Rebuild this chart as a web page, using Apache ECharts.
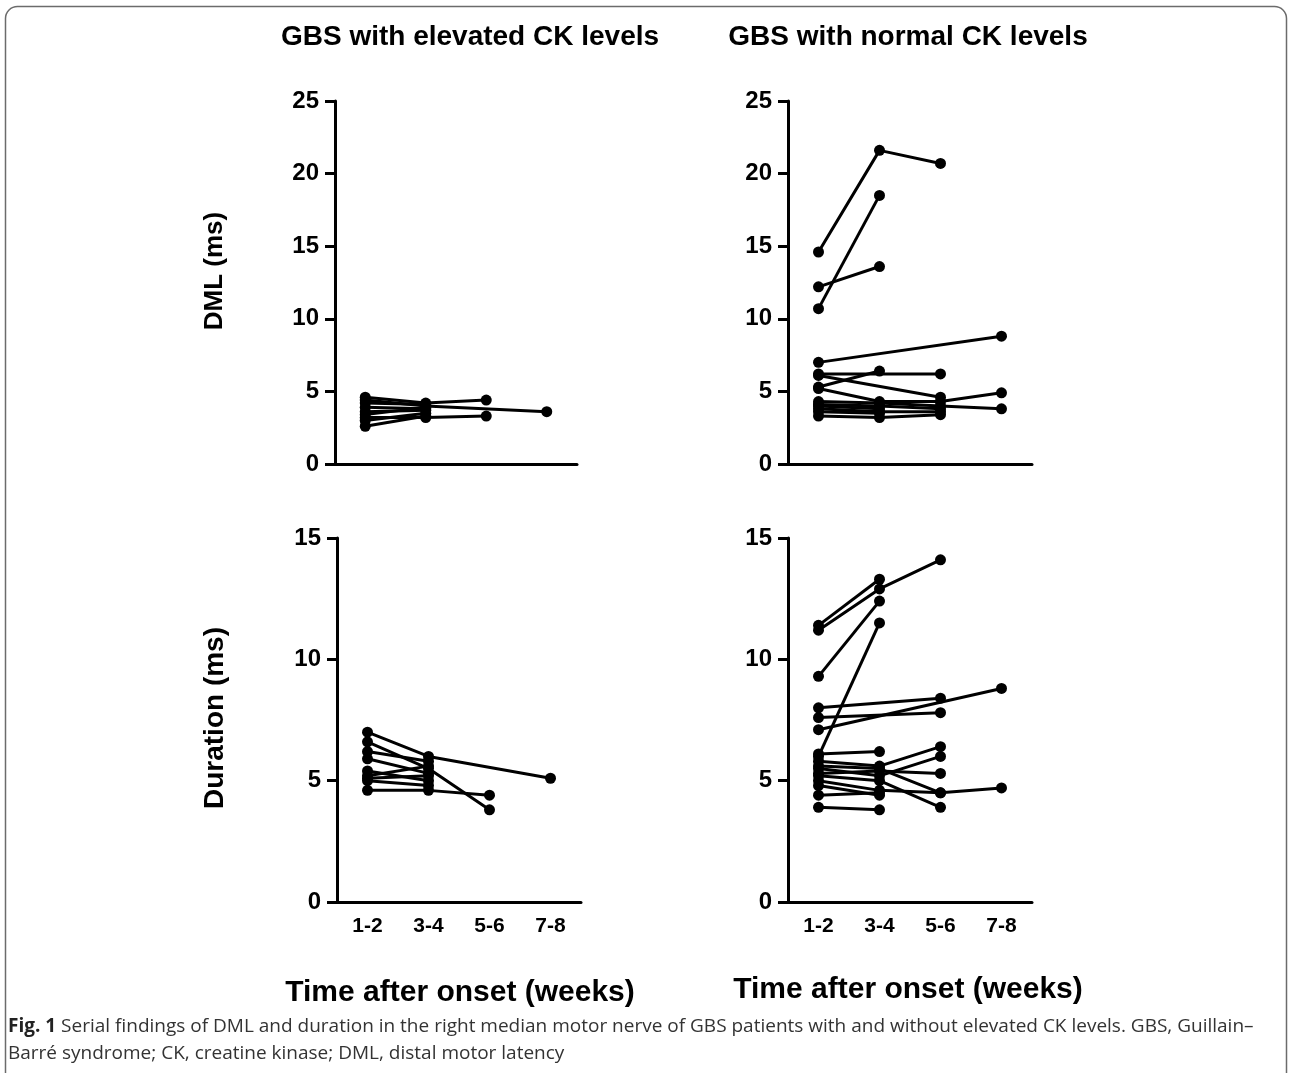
<!DOCTYPE html>
<html>
<head>
<meta charset="utf-8">
<script src="https://cdn.jsdelivr.net/npm/echarts@6/dist/echarts.min.js"></script>
<style>
html, body { margin: 0; padding: 0; background: #fff; }
#chart { width: 1292px; height: 1073px; }
</style>
</head>
<body>
<div id="chart"></div>
<script>
// time after onset (weeks)
const weeks = ['1-2', '3-4', '5-6', '7-8'];

// one row per patient, null = no measurement at that time
const dmlElevated = [
  [4.6, 4.2, 4.4, null],
  [4.4, 4.0, null, 3.6],
  [4.2, 4.1, null, null],
  [3.9, 3.8, null, null],
  [3.6, 3.7, null, null],
  [3.4, 3.9, null, null],
  [3.2, 3.2, 3.3, null],
  [3.0, 3.5, null, null],
  [2.6, 3.3, null, null]
];
const dmlNormal = [
  [14.6, 21.6, 20.7, null],
  [10.7, 18.5, null, null],
  [12.2, 13.6, null, null],
  [7.0, null, null, 8.8],
  [6.2, null, 6.2, null],
  [6.1, null, 4.6, null],
  [5.3, 6.4, null, null],
  [5.2, 4.3, 4.3, 4.9],
  [4.3, 4.2, 4.0, 3.8],
  [4.1, 4.0, 3.8, null],
  [4.0, 3.8, null, null],
  [3.8, 3.6, 3.6, null],
  [3.6, 3.5, null, null],
  [3.3, 3.2, 3.4, null]
];
const durElevated = [
  [7.0, 6.0, null, 5.1],
  [6.6, 5.5, 3.8, null],
  [6.2, 5.8, null, null],
  [5.9, 5.3, null, null],
  [5.4, 5.0, null, null],
  [5.2, 5.6, null, null],
  [5.1, 5.2, null, null],
  [5.0, 4.8, null, null],
  [4.6, 4.6, 4.4, null]
];
const durNormal = [
  [11.4, 13.3, null, null],
  [11.2, 12.9, 14.1, null],
  [9.3, 12.4, null, null],
  [6.0, 11.5, null, null],
  [8.0, null, 8.4, null],
  [7.6, null, 7.8, null],
  [7.1, null, null, 8.8],
  [6.1, 6.2, null, null],
  [5.8, 5.6, 6.4, null],
  [5.5, 5.2, 6.0, null],
  [5.3, 5.4, 5.3, null],
  [5.6, 5.5, 4.5, 4.7],
  [5.2, 5.0, 3.9, null],
  [5.0, 4.6, 4.5, null],
  [4.8, 4.4, null, null],
  [4.4, 4.5, null, null],
  [3.9, 3.8, null, null]
];

const panelTitles = ['GBS with elevated CK levels', 'GBS with normal CK levels'];
const xName = 'Time after onset (weeks)';
const yNames = ['DML (ms)', 'Duration (ms)'];
const dmlTicks = { min: 0, max: 25, interval: 5 };
const durTicks = { min: 0, max: 15, interval: 5 };

const font = 'Liberation Sans, Arial, sans-serif';
const black = '#000';

const chart = echarts.init(document.getElementById('chart'));

function xAxis(idx, showLabels) {
  return {
    gridIndex: idx,
    type: 'category',
    data: weeks,
    boundaryGap: true,
    axisLine: { lineStyle: { color: black, width: 3 } },
    axisTick: { alignWithLabel: true, interval: 0, length: 10, lineStyle: { color: black, width: 3 } },
    axisLabel: {
      show: showLabels, interval: 0, margin: 14,
      color: black, fontFamily: font, fontWeight: 'bold', fontSize: 21
    },
    splitLine: { show: false }
  };
}

function yAxis(idx, t) {
  return {
    gridIndex: idx,
    type: 'value',
    min: t.min, max: t.max, interval: t.interval,
    axisLine: { show: true, lineStyle: { color: black, width: 3 } },
    axisTick: { show: true, length: 10, lineStyle: { color: black, width: 3 } },
    axisLabel: { margin: 16, color: black, fontFamily: font, fontWeight: 'bold', fontSize: 24 },
    splitLine: { show: false }
  };
}

function patientLines(rows, idx) {
  return rows.map(r => ({
    type: 'line',
    xAxisIndex: idx,
    yAxisIndex: idx,
    data: r,
    connectNulls: true,
    symbol: 'circle',
    symbolSize: 11,
    itemStyle: { color: black },
    lineStyle: { color: black, width: 3 },
    animation: false
  }));
}

function label(text, x, y, size, extra) {
  return Object.assign({
    type: 'text', x: x, y: y, silent: true,
    style: {
      text: text, fill: black, textAlign: 'center', textVerticalAlign: 'middle',
      font: 'bold ' + size + 'px ' + font
    }
  }, extra || {});
}

chart.setOption({
  backgroundColor: '#fff',
  animation: false,
  grid: [
    { left: 335, top: 101, width: 242, height: 363 },
    { left: 788, top: 101, width: 244, height: 363 },
    { left: 337, top: 538, width: 244, height: 364 },
    { left: 788, top: 538, width: 244, height: 364 }
  ],
  xAxis: [xAxis(0, false), xAxis(1, false), xAxis(2, true), xAxis(3, true)],
  yAxis: [yAxis(0, dmlTicks), yAxis(1, dmlTicks), yAxis(2, durTicks), yAxis(3, durTicks)],
  series: [].concat(
    patientLines(dmlElevated, 0),
    patientLines(dmlNormal, 1),
    patientLines(durElevated, 2),
    patientLines(durNormal, 3)
  ),
  graphic: [
    {
      type: 'rect', silent: true,
      shape: { x: 5.5, y: 6.5, width: 1281, height: 1200, r: 12 },
      style: { fill: 'none', stroke: '#6b6b6b', lineWidth: 1.5 }
    },
    label(panelTitles[0], 470, 37, 28),
    label(panelTitles[1], 908, 37, 28),
    label(xName, 460, 993, 30),
    label(xName, 908, 990, 30),
    label(yNames[0], 215, 271, 26, { rotation: Math.PI / 2 }),
    label(yNames[1], 215, 718, 28, { rotation: Math.PI / 2 }),
    {
      type: 'text', x: 8, y: 1027, silent: true,
      style: {
        text: '{b|Fig. 1} Serial findings of DML and duration in the right median motor nerve of GBS patients with and without elevated CK levels. GBS, Guillain\u2013',
        textVerticalAlign: 'middle',
        fill: '#333',
        font: '19px Open Sans, sans-serif',
        rich: { b: { fontWeight: 'bold', fontFamily: 'Open Sans, sans-serif', fontSize: 19, fill: '#222' } }
      }
    },
    {
      type: 'text', x: 8, y: 1054, silent: true,
      style: {
        text: 'Barré syndrome; CK, creatine kinase; DML, distal motor latency',
        textVerticalAlign: 'middle',
        fill: '#333',
        font: '19px Open Sans, sans-serif'
      }
    }
  ]
});
</script>
</body>
</html>
